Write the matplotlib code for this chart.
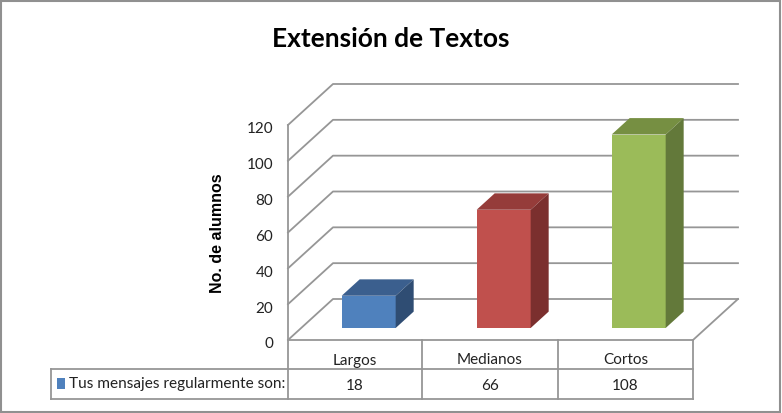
import matplotlib
matplotlib.use('Agg')
import matplotlib.pyplot as plt
from matplotlib.patches import Polygon, Rectangle

categorias = ['Largos', 'Medianos', 'Cortos']
valores = [18, 66, 108]
ticks = [0, 20, 40, 60, 80, 100, 120]
titulo = 'Extensión de Textos'
etiqueta_y = 'No. de alumnos'
serie = 'Tus mensajes regularmente son:'

frente = ['#4F81BD', '#C0504D', '#9BBB59']
arriba = ['#3B5F8E', '#953C3A', '#768F42']
lado = ['#2F4D73', '#7B2F2E', '#63793A']
gris = '#969696'
fuente = 'Lato'

W, H = 782, 413
fig = plt.figure(figsize=(W / 100, H / 100), dpi=100)

# capa en pixeles para marco y tabla
bg = fig.add_axes([0, 0, 1, 1])
bg.set_xlim(0, W)
bg.set_ylim(H, 0)
bg.axis('off')

bg.add_patch(Rectangle((1, 1), 779, 411, fill=False, ec='#909090', lw=1.5))

# tabla de datos
xs = [288, 422, 558, 693]
bg.plot([288, 693], [340, 340], color=gris, lw=1.3)
bg.plot([51, 693], [369, 369], color=gris, lw=1.3)
bg.plot([51, 693], [399, 399], color=gris, lw=1.3)
bg.plot([51, 51], [369, 399], color=gris, lw=1.3)
for x in xs:
    bg.plot([x, x], [340, 399], color=gris, lw=1.3)
bg.add_patch(Rectangle((57, 378), 8, 11, color=frente[0], lw=0))
bg.text(69, 384, serie, fontsize=11.1, family=fuente, va='center', color='#222222')
for i, cat in enumerate(categorias):
    xc = (xs[i] + xs[i + 1]) / 2
    bg.text(xc, 360.5, cat, fontsize=11, family=fuente, ha='center', va='center', color='#222222')
    bg.text(xc, 386, str(valores[i]), fontsize=11, family=fuente, ha='center', va='center', color='#222222')

bg.text(391, 39, titulo, fontsize=19, family=fuente, fontweight='bold', ha='center', va='center', color='black')
bg.text(217, 233, etiqueta_y, fontsize=11.5, family='Liberation Sans', fontweight='bold',
        rotation=90, ha='center', va='center', color='black')

# ejes: plano frontal, x en categorias, y en valores
ax = fig.add_axes([288 / W, 1 - 340 / H, (693 - 288) / W, (340 - 125) / H])
ax.set_xlim(0, 3)
ax.set_ylim(0, 120)
ax.axis('off')

# profundidad del piso en unidades de datos
prof_x = 45 / 135
prof_y = 41 / (215 / 120)

ax.plot([0, 0], [0, 120], color=gris, lw=1.3, clip_on=False)
for t in ticks:
    ax.plot([0, prof_x, 3 + prof_x], [t, t + prof_y, t + prof_y], color=gris, lw=1.3, clip_on=False, zorder=1)
    ax.text(-0.11, t - 2.5, str(t), fontsize=11, family=fuente, ha='right', va='center', color='#222222')
ax.plot([3 + prof_x, 3], [prof_y, 0], color=gris, lw=1.3, clip_on=False, zorder=1)

# barras en 3D
ini = 12 / 41
d = 18 / 45
ancho = 54 / 135
bx = [i + 0.5 + ini * prof_x for i in range(3)]
y0 = ini * prof_y
dy = d * prof_y
dx = d * prof_x

for i, v in enumerate(valores):
    izq = bx[i] - ancho / 2
    der = bx[i] + ancho / 2
    ax.bar(bx[i], v, width=ancho, bottom=y0, color=frente[i], lw=0, zorder=3, clip_on=False)
    ax.add_patch(Polygon([(izq, y0 + v), (der, y0 + v), (der + dx, y0 + v + dy), (izq + dx, y0 + v + dy)],
                         color=arriba[i], lw=0, zorder=3, clip_on=False))
    ax.add_patch(Polygon([(der, y0), (der + dx, y0 + dy), (der + dx, y0 + v + dy), (der, y0 + v)],
                         color=lado[i], lw=0, zorder=3, clip_on=False))

fig.savefig('out.png', dpi=100)
